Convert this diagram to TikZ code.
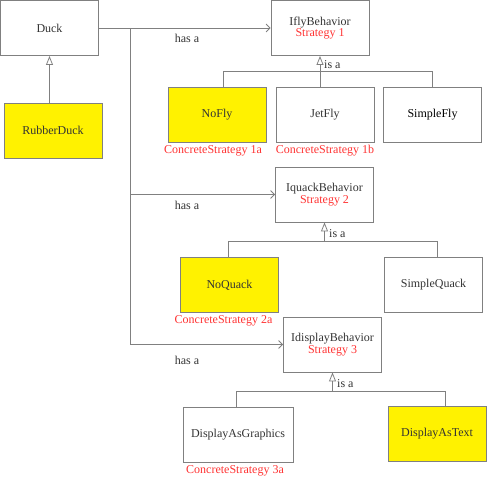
\documentclass[tikz,border=0pt]{standalone}
\usepackage{fontspec}
\setmainfont{Liberation Serif}
\usetikzlibrary{arrows.meta,positioning}

\tikzset{
  box/.style={draw=black!50, line width=0.8pt, minimum width=98pt, minimum height=55pt,
    inner sep=0pt, align=center, text=black!80},
  hilite/.style={box, fill=yellow},
  strat/.style={text=red!80, inner sep=1pt},
  wire/.style={draw=black!50, line width=0.8pt},
  hasa/.style={wire, -{Straight Barb[length=4pt,width=8pt]}},
  isa/.style={wire, -{Triangle[open,length=9pt,width=7pt]}},
}

\begin{document}
\begin{tikzpicture}[x=1pt, y=-1pt, every node/.style={font=\fontsize{12}{13.5}\selectfont, text=black!80}]
  \useasboundingbox (0,0) rectangle (487,480);
  % client
  \node[box] (duck) at (49.5,28) {Duck};
  \node[hilite] (rubber) at (53,130.5) {RubberDuck};
  \draw[isa] (duck.south |- rubber.north) -- (duck.south);
  % fly behaviour
  \node[box] (fly) at (320,28) {IflyBehavior\\[-2pt]\textcolor{red!80}{Strategy 1}};
  \node[hilite] (nofly) at (217,114.5) {NoFly};
  \node[box] (jetfly) at (325,114.5) {JetFly};
  \node[box, text=black] (simplefly) at (432.5,114.5) {SimpleFly};
  \node[strat, below=1.5pt of nofly, xshift=-4pt] (nofly lbl) {ConcreteStrategy 1a};
  \node[strat, below=1.5pt of jetfly] (jetfly lbl) {ConcreteStrategy 1b};
  % quack behaviour
  \node[box] (quack) at (324.5,194.5) {IquackBehavior\\[-2pt]\textcolor{red!80}{Strategy 2}};
  \node[hilite] (noquack) at (229.5,285) {NoQuack};
  \node[box] (simplequack) at (433.5,284.5) {SimpleQuack};
  \node[strat, below=1.5pt of noquack, xshift=-6pt] (noquack lbl) {ConcreteStrategy 2a};
  % display behaviour
  \node[box] (display) at (332.5,344.5) {IdisplayBehavior\\[-2pt]\textcolor{red!80}{Strategy 3}};
  \node[box, minimum width=110pt] (graphics) at (238,434.5) {DisplayAsGraphics};
  \node[hilite] (text) at (437,433.5) {DisplayAsText};
  \node[strat, below=1.5pt of graphics, xshift=-3pt] (graphics lbl) {ConcreteStrategy 3a};

  % has a
  \coordinate (trunk) at (130,28);
  \draw[hasa] (duck) -- (fly);
  \draw[hasa] (trunk) |- (quack.west);
  \draw[hasa] (trunk) |- (display.west);
  \node (hasa1) at (187,38) {has a};
  \node (hasa2) at (187,205) {has a};
  \node (hasa3) at (187,360) {has a};

  % is a
  \coordinate (flyL) at (223,71);
  \coordinate (flyR) at (432.5,71);
  \draw[wire] (flyL |- nofly.north) -- (flyL) -- (flyR) -- (flyR |- simplefly.north);
  \draw[isa] (fly.south |- jetfly.north) -- (fly.south);
  \node[anchor=west, inner sep=0pt] (isa1) at (324,65) {is a};

  \coordinate (quackL) at (228,241);
  \coordinate (quackR) at (437,241);
  \draw[wire] (quackL |- noquack.north) -- (quackL) -- (quackR) -- (quackR |- simplequack.north);
  \draw[isa] (quack.south |- quackL) -- (quack.south);
  \node[anchor=west, inner sep=0pt] (isa2) at (329,234) {is a};

  \coordinate (dispL) at (236,391);
  \coordinate (dispR) at (445,391);
  \draw[wire] (dispL |- graphics.north) -- (dispL) -- (dispR) -- (dispR |- text.north);
  \draw[isa] (display.south |- dispL) -- (display.south);
  \node[anchor=west, inner sep=0pt] (isa3) at (337,384) {is a};
\end{tikzpicture}
\end{document}
